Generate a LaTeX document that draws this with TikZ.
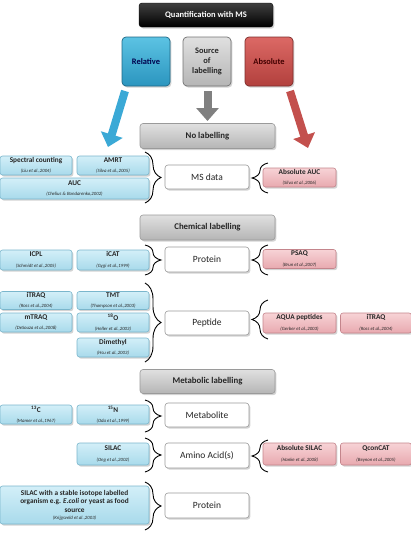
\documentclass[tikz,border=0pt]{standalone}
\usepackage{fontspec}
\setmainfont{Carlito}
\usetikzlibrary{shadows,decorations.pathreplacing,arrows.meta,calc}
\definecolor{bluefillA}{HTML}{D3EFF8}
\definecolor{bluefillB}{HTML}{A8DAEB}
\definecolor{blueline}{HTML}{7AB6CC}
\definecolor{pinkfillA}{HTML}{F7D3D6}
\definecolor{pinkfillB}{HTML}{E8A9AF}
\definecolor{pinkline}{HTML}{C4858C}
\definecolor{grayA}{HTML}{E0E0E0}
\definecolor{grayB}{HTML}{B5B5B5}
\definecolor{grayline}{HTML}{9A9A9A}
\definecolor{relA}{HTML}{5CC3E3}
\definecolor{relB}{HTML}{2B95BF}
\definecolor{absA}{HTML}{DC6965}
\definecolor{absB}{HTML}{B2403D}
\definecolor{arrblue}{HTML}{3BA9D6}
\definecolor{arrgray}{HTML}{808080}
\definecolor{arrred}{HTML}{C3504D}
\newcommand\lbl[2]{{\fontsize{7.3}{8.2}\selectfont\bfseries #1}\\[-1.5pt]{\fontsize{4.8}{5.6}\selectfont\itshape #2}}
\begin{document}
\begin{tikzpicture}[x=1pt,y=-1pt,
  every node/.style={inner sep=0pt,align=center,text=black!85},
  shad/.style={drop shadow={opacity=0.35,shadow xshift=1.4pt,shadow yshift=-1.6pt}},
  bluebox/.style={shad,rounded corners=2.5pt,draw=blueline,line width=0.6pt,top color=bluefillA,bottom color=bluefillB},
  pinkbox/.style={shad,rounded corners=2.5pt,draw=pinkline,line width=0.6pt,top color=pinkfillA,bottom color=pinkfillB},
  whitebox/.style={shad,rounded corners=3pt,draw=grayline,line width=0.6pt,fill=white,minimum width=84pt,minimum height=24pt,font=\fontsize{9.5}{11}\selectfont},
  headbox/.style={shad,rounded corners=3pt,draw=grayline,line width=0.6pt,top color=grayA,bottom color=grayB,minimum width=135pt,minimum height=25pt,font=\fontsize{8.8}{10}\selectfont\bfseries},
  bigbox/.style={shad,rounded corners=4pt,line width=0.7pt,minimum width=48pt,minimum height=49pt,font=\fontsize{8.4}{9.6}\selectfont\bfseries},
  bw/.style={minimum width=72pt},
  bigarrow/.style={line width=8pt,-{Triangle[width=22pt,length=13pt]}},
  lbrace/.style={decorate,decoration={brace,amplitude=16pt},line width=0.9pt},
]
\useasboundingbox (0,0) rectangle (411,539);

% top row
\node[shad,rounded corners=3pt,draw=black,top color=black!75,bottom color=black,minimum width=134pt,minimum height=24pt,text=white,font=\fontsize{8.5}{10}\selectfont\bfseries] (title) at (206,15) {Quantification with MS};
\node[bigbox,draw=relB!70!black,top color=relA,bottom color=relB,text=blue!30!black] (rel) at (146,61.5) {Relative};
\node[bigbox,draw=black!55,top color=grayA,bottom color=grayB] (src) at (207,61.5) {Source\\of\\labelling};
\node[bigbox,draw=absB!70!black,top color=absA,bottom color=absB,text=red!25!black] (abs) at (269,61.5) {Absolute};

\coordinate (ba1) at (125,91);
\coordinate (ba2) at (108,147);
\coordinate (ga1) at (207.5,91);
\coordinate (ga2) at (207.5,121);
\coordinate (ra1) at (290,91);
\coordinate (ra2) at (308,148);
\draw[bigarrow,draw=arrblue] (ba1) -- (ba2);
\draw[bigarrow,draw=arrgray] (ga1) -- (ga2);
\draw[bigarrow,draw=arrred] (ra1) -- (ra2);

% No labelling
\node[headbox] (nolab) at (207.5,136) {No labelling};
\node[bluebox,bw,minimum height=19pt] (spec) at (36,165.5) {\lbl{Spectral counting}{(Liu et al.,2004)}};
\node[bluebox,bw,minimum height=19pt] (amrt) at (113,165.5) {\lbl{AMRT}{(Silva et al.,2005)}};
\node[bluebox,minimum width=149pt,minimum height=21pt] (auc) at (74.5,188.5) {\lbl{AUC}{(Chelius \& Bondarenko,2002)}};
\node[whitebox] (msdata) at (207,177) {MS data};
\node[pinkbox,minimum width=73pt,minimum height=19pt] (absauc) at (299.5,177.5) {\lbl{Absolute AUC}{(Silva et al.,2006)}};
\draw[lbrace] (145,152) -- (145,203);
\draw[lbrace] (268,193) -- (268,163);

% Chemical labelling
\node[headbox] (chem) at (207.5,227.5) {Chemical labelling};
\node[bluebox,bw,minimum height=20pt] (icpl) at (36,260) {\lbl{ICPL}{(Schmidt et al.,2005)}};
\node[bluebox,bw,minimum height=20pt] (icat) at (113,260) {\lbl{iCAT}{(Gygi et al.,1999)}};
\node[whitebox,minimum height=25pt] (prot1) at (207,259.5) {Protein};
\node[pinkbox,minimum width=73pt,minimum height=19pt] (psaq) at (299.5,259) {\lbl{PSAQ}{(Brun et al.,2007)}};
\draw[lbrace] (145,245) -- (145,275);
\draw[lbrace] (268,275) -- (268,245);

\node[bluebox,bw,minimum height=18pt] (itraq) at (36,300.5) {\lbl{iTRAQ}{(Ross et al.,2004)}};
\node[bluebox,bw,minimum height=18pt] (tmt) at (113,300.5) {\lbl{TMT}{(Thompson et al.,2003)}};
\node[bluebox,bw,minimum height=19pt] (mtraq) at (36,322.5) {\lbl{mTRAQ}{(DeSouza et al.,2008)}};
\node[bluebox,bw,minimum height=19pt] (oxy) at (113,322.5) {\lbl{\textsuperscript{18}O}{(Heller et al.,2003)}};
\node[bluebox,bw,minimum height=19pt] (dimethyl) at (113,347.5) {\lbl{Dimethyl}{(Hsu et al.,2003)}};
\node[whitebox] (peptide) at (207,323) {Peptide};
\node[pinkbox,minimum width=73pt,minimum height=20pt] (aqua) at (299.5,323) {\lbl{AQUA peptides}{(Gerber et al.,2003)}};
\node[pinkbox,minimum width=71pt,minimum height=20pt] (itraq2) at (376,323) {\lbl{iTRAQ}{(Ross et al.,2004)}};
\draw[lbrace] (145,283) -- (145,362);
\draw[lbrace] (268,339) -- (268,300);

% Metabolic labelling
\node[headbox,minimum height=24pt] (metab) at (207.5,381.5) {Metabolic labelling};
\node[bluebox,bw,minimum height=19pt] (ccc) at (36,414.5) {\lbl{\textsuperscript{13}C}{(Mamer et al.,1967)}};
\node[bluebox,bw,minimum height=19pt] (nnn) at (113,414.5) {\lbl{\textsuperscript{15}N}{(Oda et al.,1999)}};
\node[whitebox] (metabolite) at (207,415) {Metabolite};
\draw[lbrace] (145,400) -- (145,432);

\node[bluebox,bw,minimum height=22pt] (silac) at (113,454) {\lbl{SILAC}{(Ong et al.,2002)}};
\node[whitebox,minimum height=25pt] (amino) at (207,455.5) {Amino Acid(s)};
\node[pinkbox,minimum width=73pt,minimum height=22pt] (abssilac) at (299.5,454) {\lbl{Absolute SILAC}{(Hanke et al.,2008)}};
\node[pinkbox,minimum width=71pt,minimum height=22pt] (qconcat) at (376,454) {\lbl{QconCAT}{(Beynon et al.,2005)}};
\draw[lbrace] (145,438) -- (145,472);
\draw[lbrace] (268,472) -- (268,440);

\node[bluebox,minimum width=149pt,minimum height=38pt,font=\fontsize{7.3}{8.6}\selectfont\bfseries] (silacbig) at (74.5,505) {SILAC with a stable isotope labelled\\organism e.g. \textit{E.coli} or yeast as food\\source\\[-1.5pt]{\fontsize{4.8}{5.6}\selectfont\mdseries\itshape (Krijgsveld et al.,2003)}};
\node[whitebox,minimum height=25pt] (prot2) at (207,505.5) {Protein};
\draw[lbrace] (145,482) -- (145,530);
\end{tikzpicture}
\end{document}
